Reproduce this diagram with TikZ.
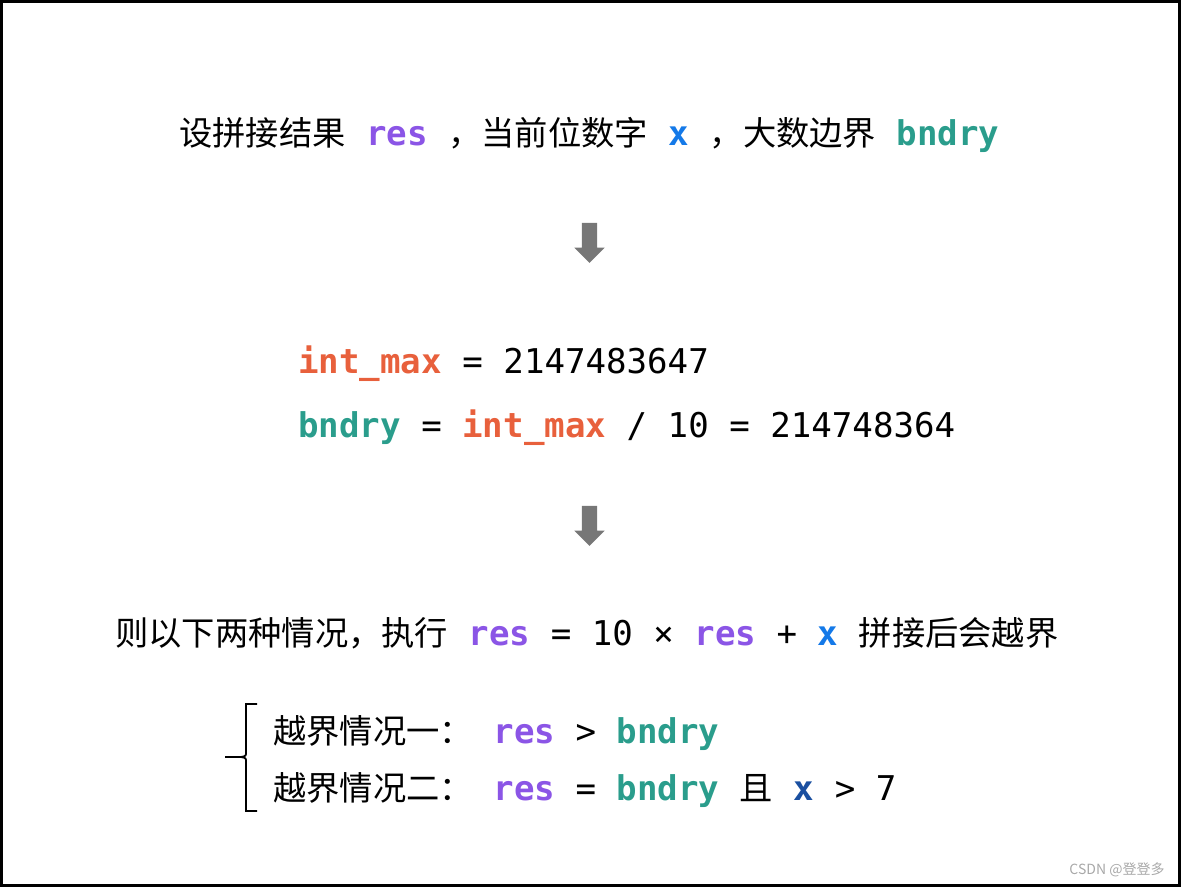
\documentclass[tikz,border=0pt]{standalone}
\usepackage{fontspec}
\usepackage{xcolor}
\usetikzlibrary{shapes.arrows, positioning}
\setmainfont{Noto Sans CJK SC}
\setmonofont{DejaVu Sans Mono}
\definecolor{respurple}{HTML}{8B55E6}
\definecolor{xblue}{HTML}{1479E8}
\definecolor{xdark}{HTML}{1A4FA0}
\definecolor{bndteal}{HTML}{2A9D8C}
\definecolor{maxred}{HTML}{E8603C}
\definecolor{arrowgray}{HTML}{777777}
\definecolor{markgray}{HTML}{A8A8A8}
\newcommand{\kw}[2]{{\color{#1}\ttfamily\bfseries\fontsize{34.1}{38}\selectfont #2}}
\newcommand{\op}[1]{{\ttfamily\fontsize{34.1}{38}\selectfont #1}}
\newcommand{\vres}{\kw{respurple}{res}}
\newcommand{\vbnd}{\kw{bndteal}{bndry}}
\newcommand{\vmax}{\kw{maxred}{int\_max}}

\begin{document}
\begin{tikzpicture}[x=1pt, y=-1pt]
    \tikzstyle{line} = [inner sep=0pt, anchor=base west, font=\fontsize{33.3}{38}\selectfont]
    \tikzstyle{down} = [single arrow, draw=none, fill=arrowgray, minimum height=40pt, minimum width=0pt, single arrow head extend=7.5pt, shape border rotate=270, inner sep=7.5pt]

    \useasboundingbox (0,0) rectangle (1181,887);
    \draw [line width=3pt] (1.5,1.5) rectangle (1179.5,885.5);

    \node [line] (setup) at (179,145) {设拼接结果\op{ }\vres\op{ }，当前位数字\op{ }\kw{xblue}{x}\op{ }，大数边界\op{ }\vbnd};
    \node [down] (arr1) at (589.5,239) {};

    \node [line] (intmax) at (298,373) {\vmax\op{ = 2147483647}};
    \node [line] (bndry) at (298,437) {\vbnd\op{ = }\vmax\op{ / 10 = 214748364}};
    \node [down] (arr2) at (589.5,522) {};

    \node [line] (cases) at (115,645) {则以下两种情况，执行\op{ }\vres\op{ = 10 × }\vres\op{ + }\kw{xblue}{x}\op{ }拼接后会越界};

    % two cases with a brace
    \node [line] (case1) at (273,743) {越界情况一：\op{ }\vres\op{ > }\vbnd};
    \node [line] (case2) at (273,800) {越界情况二：\op{ }\vres\op{ = }\vbnd\op{ }且\op{ }\kw{xdark}{x}\op{ > 7}};
    \draw [line width=1.8pt] (257,704) -- (246,704) -- (246,752) .. controls (246,756) .. (241,757) -- (225,757);
    \draw [line width=1.8pt] (257,811) -- (246,811) -- (246,762) .. controls (246,758) .. (241,757);

    \node [text=markgray, font=\fontsize{14}{16}\selectfont] (mark) at (1117,870) {CSDN @登登多};
\end{tikzpicture}
\end{document}
